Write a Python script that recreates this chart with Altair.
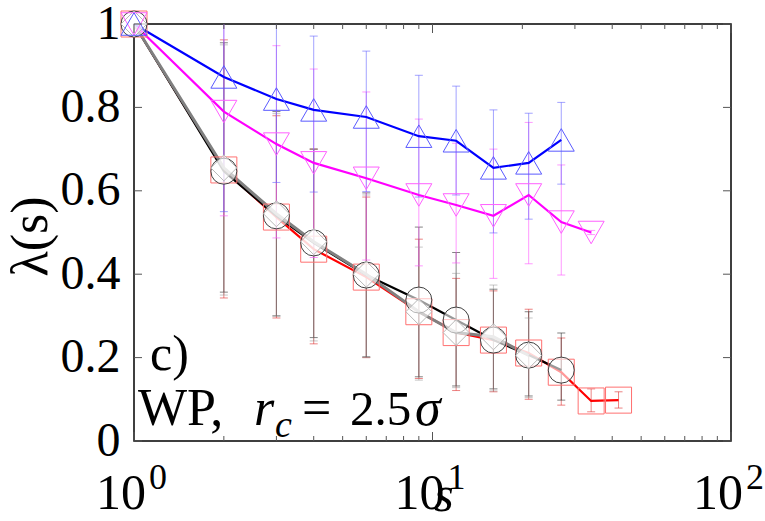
import altair as alt
import pandas as pd

# ---------------- data ----------------
s_vals = [1, 2, 3, 4, 6, 9, 12, 16, 21, 27, 34, 42]

blue_y  = [1.0, 0.873, 0.82, 0.794, 0.777, 0.731, 0.72, 0.655, 0.667, 0.722]
blue_hi = [1.0, 1.04, 1.01, 0.971, 0.935, 0.877, 0.851, 0.794, 0.786, 0.812]
blue_lo = [1.0, 0.55, 0.62, 0.597, 0.598, 0.585, 0.59, 0.499, 0.532, 0.616]

mag_y  = [1.0, 0.79, 0.712, 0.667, 0.63, 0.59, 0.566, 0.54, 0.59, 0.525, 0.50]
mag_hi = [1.0, 1.03, 0.948, 0.892, 0.837, 0.772, 0.714, 0.70, 0.764, 0.662, 0.505]
mag_lo = [1.0, 0.54, 0.487, 0.44, 0.434, 0.42, 0.427, 0.39, 0.425, 0.398, 0.495]

blk_y  = [1.0, 0.647, 0.54, 0.475, 0.398, 0.338, 0.29, 0.242, 0.206, 0.17]
blk_hi = [1.0, 0.955, 0.79, 0.70, 0.595, 0.513, 0.452, 0.364, 0.31, 0.259]
blk_lo = [1.0, 0.357, 0.30, 0.248, 0.202, 0.154, 0.132, 0.125, 0.108, 0.098]

red_y  = [1.0, 0.65, 0.537, 0.46, 0.393, 0.31, 0.26, 0.242, 0.211, 0.165, 0.096, 0.098]
red_hi = [1.0, 0.962, 0.78, 0.70, 0.585, 0.484, 0.39, 0.36, 0.316, 0.247, 0.125, 0.118]
red_lo = [1.0, 0.343, 0.295, 0.233, 0.20, 0.15, 0.121, 0.118, 0.10, 0.086, 0.07, 0.079]

gry_y  = [1.0, 0.655, 0.545, 0.478, 0.40, 0.31, 0.26, 0.25, 0.205]
gry_hi = [1.0, 0.95, 0.785, 0.70, 0.59, 0.465, 0.402, 0.374, 0.295]
gry_lo = [1.0, 0.35, 0.30, 0.24, 0.20, 0.146, 0.128, 0.12, 0.104]

y_ticks = [0, 0.2, 0.4, 0.6, 0.8, 1.0]
x_major = [1, 10, 100]
x_minor = [2, 3, 4, 5, 6, 7, 8, 9, 20, 30, 40, 50, 60, 70, 80, 90]
x_base = ["10", "10", "10"]
x_exp = ["0", "1", "2"]

# ---------------- layout ----------------
W, H = 597, 417
FONT = "Liberation Serif, DejaVu Serif, serif"
xscale = alt.Scale(type="log", domain=[1, 100], nice=False)
yscale = alt.Scale(domain=[0, 1], nice=False, zero=False)

YAX = alt.Axis(values=y_ticks, format="~g", ticks=False, domain=False, grid=False,
               labelFont=FONT, labelFontSize=48, labelPadding=14, labelColor="black",
               labelFlush=False, labelOverlap=False,
               title="λ(s)", titleFont=FONT, titleFontSize=52,
               titleFontWeight="normal", titleColor="black",
               titleX=-104, titleY=212, titleAngle=-90,
               titleAlign="center", titleBaseline="middle")


def X(f):
    return alt.X(f, type="quantitative", scale=xscale, axis=None)


def Y(f):
    return alt.Y(f, type="quantitative", scale=yscale, axis=YAX)


def errbars(y, lo, hi, bar_color, op=0.6):
    n = len(y)
    df = pd.DataFrame({"s": s_vals[:n], "y": y, "lo": lo, "hi": hi})
    base = alt.Chart(df)
    rule = base.mark_rule(color=bar_color, strokeWidth=1, opacity=op, clip=True).encode(
        x=X("s"), y=Y("lo"), y2="hi:Q")
    caph = base.mark_tick(orient="horizontal", size=8, thickness=1, color=bar_color,
                          opacity=op, clip=True).encode(x=X("s"), y=Y("hi"))
    capl = base.mark_tick(orient="horizontal", size=8, thickness=1, color=bar_color,
                          opacity=op, clip=True).encode(x=X("s"), y=Y("lo"))
    return [rule, caph, capl]


def line(y, color, w=2.2):
    df = pd.DataFrame({"s": s_vals[:len(y)], "y": y})
    return alt.Chart(df).mark_line(color=color, strokeWidth=w).encode(x=X("s"), y=Y("y"))


def points(y, shape, stroke, fill="white", fill_op=0.0, size=676):
    df = pd.DataFrame({"s": s_vals[:len(y)], "y": y})
    return alt.Chart(df).mark_point(shape=shape, size=size, filled=True, fill=fill,
                                    fillOpacity=fill_op, stroke=stroke, strokeWidth=1,
                                    opacity=1).encode(x=X("s"), y=Y("y"))


# inward ticks
xmaj = alt.Chart(pd.DataFrame({"v": x_major}))
xmin = alt.Chart(pd.DataFrame({"v": x_minor}))
ytk = alt.Chart(pd.DataFrame({"v": y_ticks}))
TC = "#555555"
tick_layers = [
    xmaj.mark_rule(color=TC, strokeWidth=1).encode(x=X("v"), y=alt.value(H), y2=alt.value(H - 9)),
    xmaj.mark_rule(color=TC, strokeWidth=1).encode(x=X("v"), y=alt.value(0), y2=alt.value(9)),
    xmin.mark_rule(color=TC, strokeWidth=1).encode(x=X("v"), y=alt.value(H), y2=alt.value(H - 5)),
    xmin.mark_rule(color=TC, strokeWidth=1).encode(x=X("v"), y=alt.value(0), y2=alt.value(5)),
    ytk.mark_rule(color=TC, strokeWidth=1).encode(y=Y("v"), x=alt.value(0), x2=alt.value(8)),
    ytk.mark_rule(color=TC, strokeWidth=1).encode(y=Y("v"), x=alt.value(W), x2=alt.value(W - 8)),
]

# x tick labels 10^n
xl = alt.Chart(pd.DataFrame({"v": x_major, "base": x_base, "exp": x_exp}))
xlabels = [
    xl.mark_text(align="right", baseline="alphabetic", dx=12, font=FONT, fontSize=50,
                 color="black").encode(x=X("v"), y=alt.value(H + 68), text="base:N"),
    xl.mark_text(align="left", baseline="alphabetic", dx=15, font=FONT, fontSize=36,
                 color="black").encode(x=X("v"), y=alt.value(H + 48), text="exp:N"),
]


def txt(t, x, y, size=48, style="normal", align="left"):
    return alt.Chart(pd.DataFrame({"t": [t]})).mark_text(
        align=align, baseline="alphabetic", font=FONT, fontSize=size, fontStyle=style,
        color="black").encode(x=alt.value(x), y=alt.value(y), text="t:N")


annot = [
    txt("s", 310, H + 70, size=50, style="italic", align="center"),
    txt("c)", 16, 346, size=50),
    txt("WP,", 4, 401, size=52),
    txt("r", 120, 401, size=52, style="italic"),
    txt("c", 141, 413, size=38, style="italic"),
    txt("=", 168, 401, size=52),
    txt("2.5", 216, 401, size=49),
    txt("σ", 281, 401, size=52, style="italic"),
]

layers = []
layers += errbars(red_y, red_lo, red_hi, "#e03030")
layers += errbars(blk_y, blk_lo, blk_hi, "#303030")
layers += errbars(gry_y, gry_lo, gry_hi, "#909090", op=0.5)
layers += errbars(mag_y, mag_lo, mag_hi, "#ff55ff")
layers += errbars(blue_y, blue_lo, blue_hi, "#6666ff")
layers += [
    line(red_y, "#ff0000"),
    line(blk_y, "#000000"),
    line(gry_y, "#808080", w=3),
    line(mag_y, "#ff00ff"),
    line(blue_y, "#0000ff"),
    points(red_y, "square", "#ff7070"),
    points(blk_y, "circle", "#404040", fill_op=0.6),
    points(gry_y, "diamond", "#b8b8b8", fill_op=0.6),
    points(mag_y, "triangle-down", "#ff60ff"),
    points(blue_y, "triangle-up", "#5a5aff"),
]
layers += tick_layers + xlabels + annot

chart = alt.layer(*layers).properties(
    width=W, height=H,
    autosize=alt.AutoSizeParams(type="none"),
    padding={"left": 134, "top": 24, "right": 34, "bottom": 80},
    background="white",
).configure_view(stroke="black", strokeWidth=1.5)

chart.save("out.html", embed_options={"renderer": "svg", "actions": False})
